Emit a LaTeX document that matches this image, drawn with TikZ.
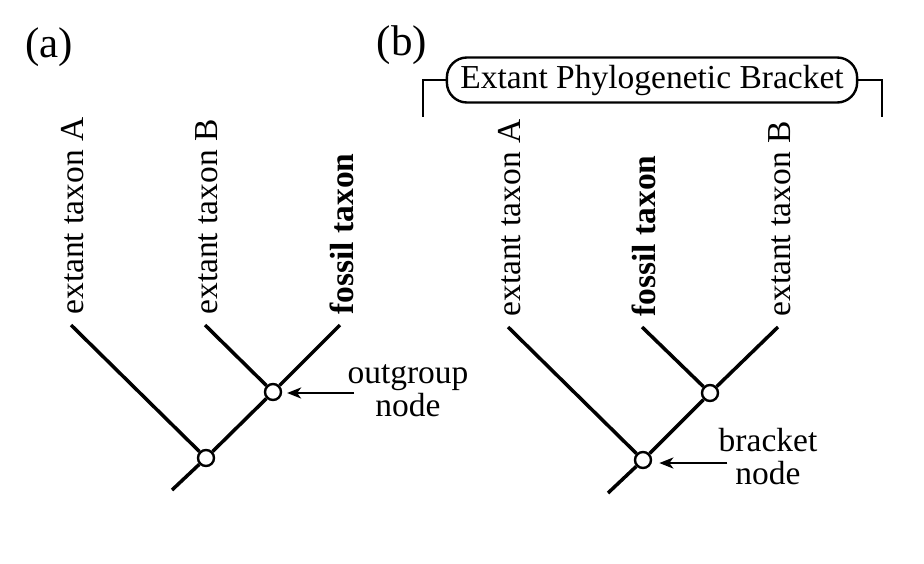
\documentclass[tikz,border=0pt]{standalone}
\usepackage{fontspec}
\setmainfont{Liberation Serif}
\usetikzlibrary{arrows.meta,calc}

\begin{document}
\begin{tikzpicture}[x=0.5pt,y=-0.5pt,
        branch/.style={line width=1.75pt},
        rim/.style={line width=1.2pt},
        junc/.style={circle,draw,fill=white,line width=1.2pt,inner sep=0pt,minimum size=8pt},
        taxon/.style={rotate=90,anchor=west,inner sep=0pt,font=\fontsize{16.75pt}{16.5pt}\selectfont},
        note/.style={align=center,inner sep=0pt,font=\fontsize{16.75pt}{16.5pt}\selectfont},
        ptr/.style={line width=1.2pt,-{Stealth[length=7pt,width=5.5pt,inset=2pt]}},
        panel/.style={inner sep=0pt,font=\fontsize{21.5pt}{24pt}\selectfont}]
    \useasboundingbox (0,0) rectangle (924,563);

    % (a) fossil taxon outside the two extant taxa
    \node[panel] (pa) at (49,47) {(a)};
    \coordinate (aA) at (71,325);
    \coordinate (aB) at (205,325);
    \coordinate (aF) at (340,325);
    \coordinate (aS) at (172,490);
    \node[junc] (aroot) at (206,458) {};
    \node[junc] (aout) at (273,392) {};
    \draw[branch] (aS) -- (aroot) -- (aA);
    \draw[branch] (aroot) -- (aout) -- (aF);
    \draw[branch] (aout) -- (aB);
    \node[taxon] (laA) at ($(aA)+(2,-10)$) {extant taxon A};
    \node[taxon] (laB) at ($(aB)+(2,-10)$) {extant taxon B};
    \node[taxon] (laF) at ($(aF)+(2,-10)$) {\bfseries fossil taxon};
    \node[note] (aog) at (408,391) {outgroup\\node};
    \draw[ptr] ([shift={(7,2)}]aog.west) -- ++(-67,0);

    % (b) fossil taxon inside the bracket
    \node[panel] (pb) at (402,45) {(b)};
    \coordinate (bA) at (508,327);
    \coordinate (bF) at (642,327);
    \coordinate (bB) at (778,327);
    \coordinate (bS) at (608,493);
    \node[junc] (broot) at (643,460) {};
    \node[junc] (bin) at (710,393) {};
    \draw[branch] (bS) -- (broot) -- (bA);
    \draw[branch] (broot) -- (bin) -- (bB);
    \draw[branch] (bin) -- (bF);
    \node[taxon] (lbA) at ($(bA)+(2,-10)$) {extant taxon A};
    \node[taxon] (lbF) at ($(bF)+(2,-10)$) {\bfseries fossil taxon};
    \node[taxon] (lbB) at ($(bB)+(2,-10)$) {extant taxon B};
    \node[note] (bbr) at (768,457) {bracket\\node};
    \draw[ptr] ([shift={(9,6)}]bbr.west) -- ++(-68,0);

    % bracket over the extant taxa
    \node[draw,rim,rounded corners=10pt,minimum height=22.5pt,inner xsep=6.75pt,inner ysep=0pt,
        font=\fontsize{16.75pt}{16.5pt}\selectfont] (ebp) at (652,80) {Extant Phylogenetic Bracket};
    \coordinate (ebl) at (423,117);
    \coordinate (ebr) at (882,117);
    \draw[rim] (ebp.west) -| (ebl);
    \draw[rim] (ebp.east) -| (ebr);
\end{tikzpicture}
\end{document}
